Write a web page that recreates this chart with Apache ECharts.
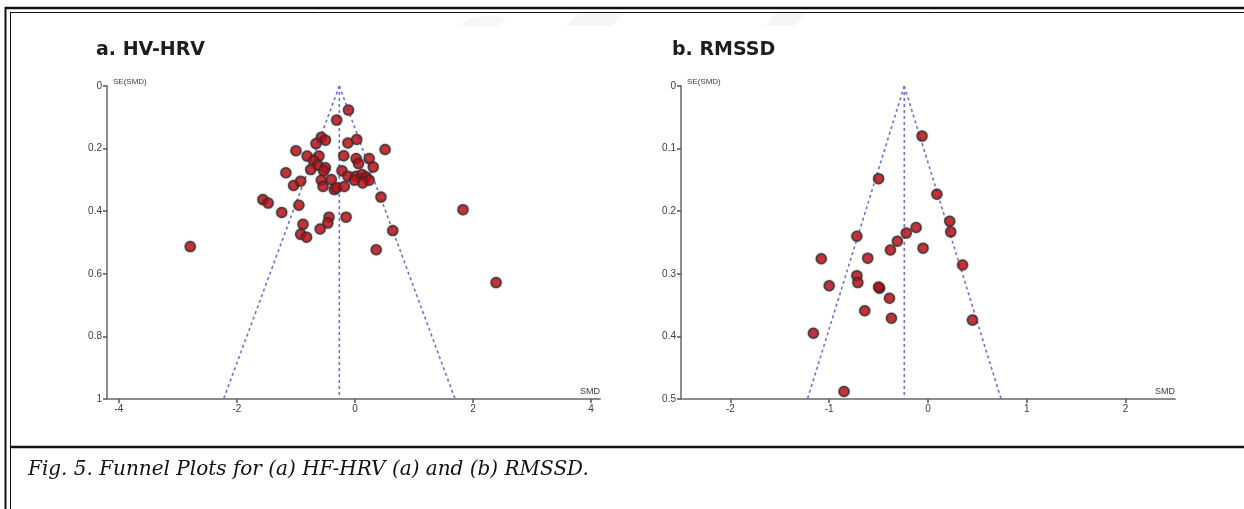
<!DOCTYPE html>
<html>
<head>
<meta charset="utf-8">
<script src="https://cdn.jsdelivr.net/npm/echarts@6/dist/echarts.min.js"></script>
<style>
    html, body {margin: 0; padding: 0; background: #fff;}
    #main {width: 1244px; height: 509px;}
</style>
</head>
<body>
<div id="main"></div>
<script>
// [SMD, SE(SMD)] for each study
const hfStudies = [
    [-0.11, 0.077], [-0.31, 0.109], [-0.57, 0.164], [-0.50, 0.173], [-0.66, 0.184],
    [-0.12, 0.182], [0.03, 0.171], [0.51, 0.203], [-1.00, 0.207], [-0.81, 0.224],
    [-0.61, 0.224], [-0.19, 0.223], [0.02, 0.232], [0.24, 0.232], [0.06, 0.248],
    [0.31, 0.259], [-0.70, 0.239], [-0.63, 0.253], [-0.75, 0.267], [-0.50, 0.261],
    [-0.53, 0.271], [-1.17, 0.277], [-0.22, 0.271], [-0.12, 0.288], [0.02, 0.288],
    [0.12, 0.283], [0.19, 0.291], [0.24, 0.301], [0.13, 0.310], [-0.01, 0.301],
    [-0.57, 0.301], [-0.54, 0.321], [-0.40, 0.299], [-1.04, 0.318], [-0.92, 0.304],
    [-0.35, 0.331], [-0.31, 0.325], [-0.18, 0.321], [-1.56, 0.363], [-1.47, 0.374],
    [-1.24, 0.404], [-0.95, 0.381], [-0.44, 0.419], [-0.15, 0.419], [-0.88, 0.442],
    [-0.46, 0.438], [-0.59, 0.457], [-0.92, 0.474], [-0.82, 0.483], [-2.79, 0.513],
    [0.44, 0.355], [1.83, 0.395], [0.64, 0.462], [0.36, 0.523], [2.39, 0.628]
];
const rmssdStudies = [
    [-0.06, 0.080], [-0.50, 0.148], [0.09, 0.173], [0.22, 0.216], [0.23, 0.233],
    [-0.12, 0.226], [-0.22, 0.235], [-0.31, 0.248], [-0.38, 0.262], [-0.05, 0.259],
    [-0.72, 0.240], [-0.61, 0.275], [-1.08, 0.276], [0.35, 0.286], [-0.72, 0.303],
    [-0.71, 0.314], [-1.00, 0.319], [-0.49, 0.323], [-0.50, 0.321], [-0.39, 0.339],
    [-0.64, 0.359], [-0.37, 0.371], [0.45, 0.374], [-1.16, 0.395], [-0.85, 0.488]
];
const hfPooled = -0.265;
const rmssdPooled = -0.24;
const hfMaxSE = 1;
const rmssdMaxSE = 0.5;
const hfXTicks = [-4, -2, 0, 2, 4];
const rmssdXTicks = [-2, -1, 0, 1, 2];

const chartDom = document.getElementById('main');
const myChart = echarts.init(chartDom, null, {renderer: 'canvas'});
let option;

const funnelColor = '#7070dc';
const axisColor = '#8c8c8c';
const labelColor = '#3c3c3c';

// pseudo 95% limits: pooled +/- 1.96 * SE
const funnel = (pooled, maxSE) => [
    [[pooled, 0], [pooled - 1.96 * maxSE, maxSE]],
    [[pooled, 0], [pooled + 1.96 * maxSE, maxSE]],
    [[pooled, 0], [pooled, maxSE]]
];

const makeX = (gridIndex, min, max, ticks) => ({
    type: 'value',
    gridIndex: gridIndex,
    min: min,
    max: max,
    name: 'SMD',
    nameLocation: 'end',
    nameGap: 0,
    nameTextStyle: {
        color: labelColor, fontSize: 9, fontFamily: 'Liberation Sans',
        align: 'right', verticalAlign: 'bottom', padding: [0, 0, 3, 0]
    },
    splitLine: {show: false},
    axisLine: {onZero: false, lineStyle: {color: axisColor, width: 2}},
    axisTick: {customValues: ticks, length: 4, lineStyle: {color: '#555', width: 1.5}},
    axisLabel: {
        customValues: ticks, color: labelColor, fontSize: 10,
        fontFamily: 'Liberation Sans', margin: 5
    }
});

const makeY = (gridIndex, max, interval) => ({
    type: 'value',
    gridIndex: gridIndex,
    inverse: true,
    min: 0,
    max: max,
    interval: interval,
    name: 'SE(SMD)',
    nameLocation: 'start',
    nameGap: 0,
    nameTextStyle: {
        color: labelColor, fontSize: 8, fontFamily: 'Liberation Sans',
        align: 'left', verticalAlign: 'bottom', padding: [0, 0, 0, 6]
    },
    splitLine: {show: false},
    axisLine: {onZero: false, lineStyle: {color: axisColor, width: 2}},
    axisTick: {length: 4, lineStyle: {color: '#555', width: 1.5}},
    axisLabel: {color: labelColor, fontSize: 10, fontFamily: 'Liberation Sans', margin: 5}
});

const funnelSeries = (idx, pooled, maxSE) => funnel(pooled, maxSE).map(seg => ({
    type: 'line',
    xAxisIndex: idx,
    yAxisIndex: idx,
    data: seg,
    symbol: 'none',
    silent: true,
    z: 1,
    lineStyle: {color: funnelColor, width: 1.6, type: [3, 3]}
}));

const studySeries = (idx, data) => ({
    type: 'scatter',
    xAxisIndex: idx,
    yAxisIndex: idx,
    data: data,
    symbol: 'circle',
    symbolSize: 10,
    z: 3,
    itemStyle: {
        color: '#c8121a',
        borderColor: '#333',
        borderWidth: 1.5,
        shadowBlur: 2,
        shadowColor: 'rgba(0,0,0,0.35)'
    }
});

option = {
    backgroundColor: '#fff',
    animation: false,
    title: [
        {
            text: 'a. HV-HRV', left: 91, top: 36,
            textStyle: {fontFamily: 'DejaVu Sans', fontWeight: 'bold', fontSize: 19, color: '#1e1e1e'}
        },
        {
            text: 'b. RMSSD', left: 667, top: 36,
            textStyle: {fontFamily: 'DejaVu Sans', fontWeight: 'bold', fontSize: 19, color: '#1e1e1e'}
        }
    ],
    grid: [
        {left: 107, top: 86, width: 493, height: 313},
        {left: 681, top: 86, width: 494, height: 313}
    ],
    xAxis: [
        makeX(0, -4.2, 4.15, hfXTicks),
        makeX(1, -2.5, 2.5, rmssdXTicks)
    ],
    yAxis: [
        makeY(0, hfMaxSE, 0.2),
        makeY(1, rmssdMaxSE, 0.1)
    ],
    series: [
        ...funnelSeries(0, hfPooled, hfMaxSE),
        studySeries(0, hfStudies),
        ...funnelSeries(1, rmssdPooled, rmssdMaxSE),
        studySeries(1, rmssdStudies)
    ],
    graphic: [
        // faint watermark fragments along the top edge
        {type: 'polygon', z: -10, shape: {points: [[578, 13], [625, 13], [612, 26], [566, 26]]}, style: {fill: '#f6f6f6'}},
        {type: 'polygon', z: -10, shape: {points: [[775, 13], [806, 13], [795, 26], [766, 26]]}, style: {fill: '#f6f6f6'}},
        {type: 'polygon', z: -10, shape: {points: [[458, 26], [470, 18], [490, 15], [506, 18], [500, 26]]}, style: {fill: '#f7f7f7'}},
        // page frame
        {type: 'line', shape: {x1: 5, y1: 8, x2: 1244, y2: 8}, style: {stroke: '#111', lineWidth: 2.5}},
        {type: 'line', shape: {x1: 10, y1: 12.5, x2: 1244, y2: 12.5}, style: {stroke: '#111', lineWidth: 1}},
        {type: 'line', shape: {x1: 5.5, y1: 7, x2: 5.5, y2: 509}, style: {stroke: '#111', lineWidth: 2}},
        {type: 'line', shape: {x1: 10.5, y1: 12, x2: 10.5, y2: 509}, style: {stroke: '#111', lineWidth: 1}},
        {type: 'line', shape: {x1: 10, y1: 447, x2: 1244, y2: 447}, style: {stroke: '#111', lineWidth: 2.5}},
        {
            type: 'text', left: 28, top: 460,
            style: {
                text: 'Fig. 5. Funnel Plots for (a) HF-HRV (a) and (b) RMSSD.',
                font: 'italic 20px "DejaVu Serif"',
                fill: '#111'
            }
        }
    ]
};

option && myChart.setOption(option);
</script>
</body>
</html>
